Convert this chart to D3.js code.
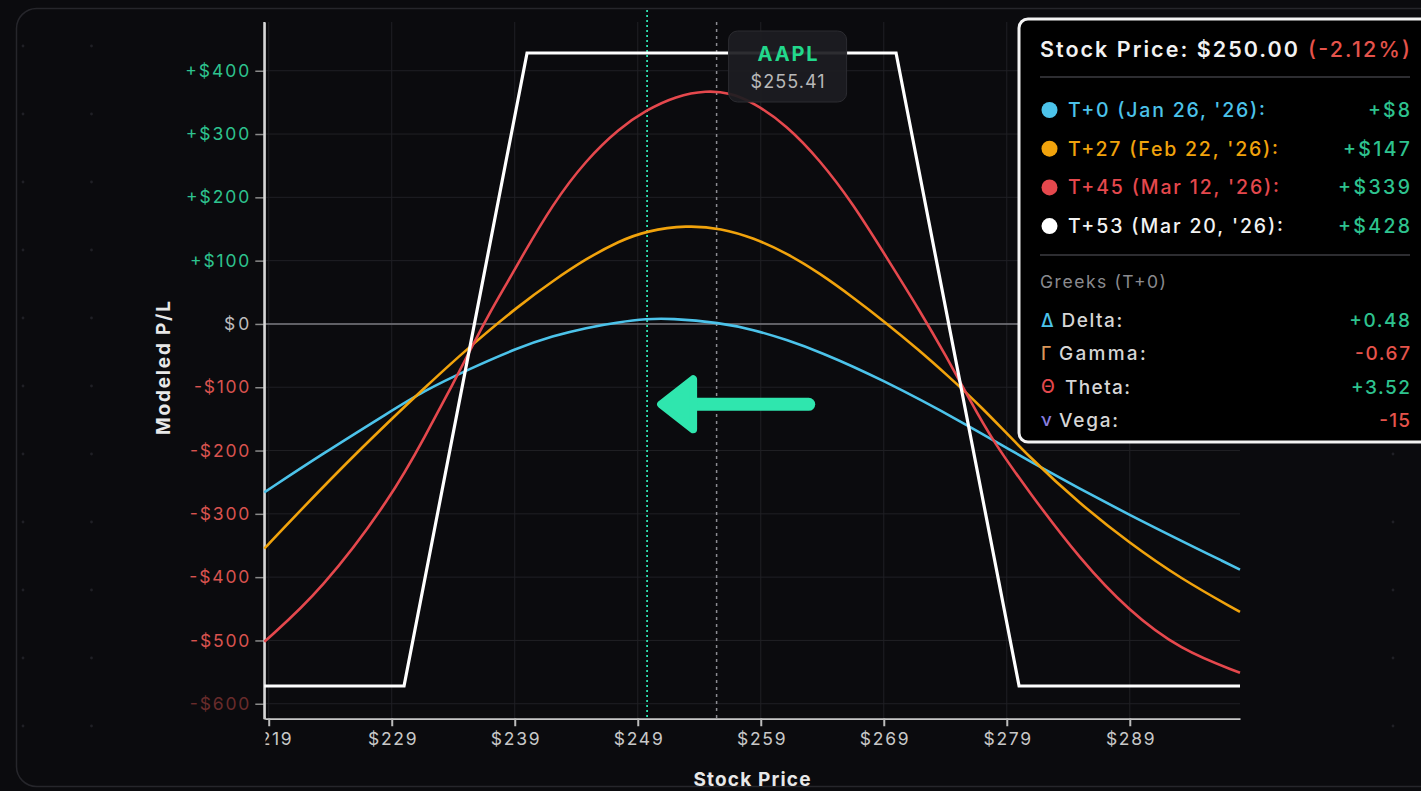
<!DOCTYPE html>
<html><head><meta charset="utf-8">
<script src="https://cdn.jsdelivr.net/npm/d3@7"></script>
<style>
html,body{margin:0;padding:0;background:#0b0b0e;overflow:hidden;}
svg{display:block;font-family:Inter,"Noto Sans",sans-serif;}
</style></head>
<body>
<svg id="chart" width="1421" height="791"></svg>
<script>
// ---------- data ----------
const priceDomain = [218.64, 297.96];
const plDomain = [-623, 477];
const xTicks = [219, 229, 239, 249, 259, 269, 279, 289];
const yTicks = [-600, -500, -400, -300, -200, -100, 0, 100, 200, 300, 400];

const seriesT0 = [[218.64,-266],[223.3,-206],[229,-137],[231.5,-107],[235.2,-72],[239.2,-38],[242.1,-19],[244.8,-6],[247.5,3],[249.7,8],[251.6,9],[255.7,2],[258.4,-9],[261.1,-25],[263.8,-44],[268.7,-86],[275.6,-157],[280.9,-218],[288.9,-302],[297.96,-388]];
const seriesT27 = [[218.64,-355],[221.3,-300],[226.3,-200],[231.7,-100],[235.2,-38],[239.4,30],[242.1,68],[244.8,103],[247.5,131],[249.7,147],[253,156],[255.8,151],[258.4,136],[261.1,112],[263.8,80],[266.5,42],[269.1,3],[271.9,-42],[274.1,-80],[276.8,-128],[280.9,-212],[285,-285],[288.9,-345],[293.1,-402],[297.96,-455]];
const seriesT45 = [[218.64,-502],[223.3,-421],[229,-273],[231.7,-178],[234.1,-90],[235.2,-48],[236.85,14],[238.5,69],[239.4,100],[242.1,190],[244.8,259],[247.5,309],[249.7,338],[252.1,360],[254.6,369],[256.5,365],[258.4,350],[261.1,314],[263.8,259],[266.5,190],[269.2,106],[271.9,22],[274.1,-52],[276,-120],[277.8,-183],[280.9,-268],[285,-373],[288.9,-453],[293.1,-515],[297.96,-551]];
const seriesT53 = [[218.64,-572],[230,-572],[240,428],[270,428],[280,-572],[297.96,-572]];

const seriesNames = ["T+0","T+27","T+45","T+53"];
const seriesColors = ["#4cc3ea","#f1a30c","#e5484d","#ffffff"];
const legendLabels = ["T+0 (Jan 26, '26):","T+27 (Feb 22, '26):","T+45 (Mar 12, '26):","T+53 (Mar 20, '26):"];
const legendValues = ["+$8","+$147","+$339","+$428"];

const greekSymbols = ["Δ","Γ","Θ","ν"];
const greekNames = ["Delta:","Gamma:","Theta:","Vega:"];
const greekValues = ["+0.48","-0.67","+3.52","-15"];
const greekSymbolColors = ["#4cc3ea","#d9965a","#e5484d","#8a7fe0"];

const currentPrice = 255.41;
const hoverPrice = 249.76;   // position of the hover cursor as drawn
const hoverLabel = "$250.00";
const hoverChange = "(-2.12%)";
const ticker = "AAPL";

// arrow annotation in data units: tip, head back, shaft end
const arrowTip = [250.9, -127];
const arrowHeadBack = 253.5;
const arrowHeadHalf = 39.5;
const arrowTail = 262.9;

// ---------- layout ----------
const svg = d3.select("#chart");
const W = 1421, H = 791;
const m = {left: 264.3, right: 1240, top: 22, bottom: 718.3};
const x = d3.scaleLinear().domain(priceDomain).range([m.left, m.right]);
const y = d3.scaleLinear().domain(plDomain).range([m.bottom, m.top]);

// helper: stretch a text to a target width (the reference font is wider)
function fitW(sel, w) { sel.attr("textLength", w).attr("lengthAdjust", "spacing"); return sel; }
function widen(sel, k) { sel.each(function () { const n = this.getComputedTextLength(); d3.select(this).attr("textLength", n * k).attr("lengthAdjust", "spacing"); }); }

// background card
svg.append("rect").attr("width", W).attr("height", H).attr("fill", "#0b0b0e");
const dotXs = d3.range(23, W, 68.5), dotYs = d3.range(46, H, 68);
dotXs.forEach(dx => dotYs.forEach(dy => {
  if (dx > 135 && dx < 1325) return;
  svg.append("circle").attr("cx", dx).attr("cy", dy).attr("r", 1.4).attr("fill", "#202026");
}));
svg.append("rect").attr("x", 16.5).attr("y", 8.5).attr("width", 1440).attr("height", 778)
  .attr("rx", 20).attr("fill", "none").attr("stroke", "#26262b").attr("stroke-width", 1.5);

// grid
const grid = svg.append("g");
grid.selectAll(".hg").data(yTicks).join("line")
  .attr("x1", m.left).attr("x2", m.right).attr("y1", d => y(d)).attr("y2", d => y(d))
  .attr("stroke", "#202025").attr("stroke-width", 1);
grid.selectAll(".vg").data(xTicks).join("line")
  .attr("y1", m.top).attr("y2", m.bottom).attr("x1", d => x(d)).attr("x2", d => x(d))
  .attr("stroke", "#202025").attr("stroke-width", 1);
// zero line
svg.append("line").attr("x1", m.left).attr("x2", m.right).attr("y1", y(0)).attr("y2", y(0))
  .attr("stroke", "#7a7a80").attr("stroke-width", 1.5);

// axes
const fmtY = d => d > 0 ? "+$" + d : d < 0 ? "-$" + Math.abs(d) : "$0";
const yAxis = svg.append("g").attr("transform", `translate(${m.left},0)`)
  .call(d3.axisLeft(y).tickValues(yTicks).tickFormat(fmtY).tickSize(9).tickSizeOuter(0).tickPadding(6));
yAxis.select(".domain").attr("stroke", "#d8d8d8").attr("stroke-width", 2);
yAxis.selectAll(".tick line").attr("stroke", "#8a8a8a").attr("stroke-width", 1.5);
yAxis.selectAll(".tick text")
  .attr("font-family", "Inter, sans-serif").attr("font-size", 17.5)
  .attr("fill", d => d > 0 ? "#2ec38f" : d < 0 ? "#d9534f" : "#bdbdbd")
  .attr("opacity", d => d === -600 ? 0.45 : 1);
widen(yAxis.selectAll(".tick text"), 1.14);

svg.append("defs").append("clipPath").attr("id", "xclip")
  .append("rect").attr("x", 265.5).attr("y", 0).attr("width", 1000).attr("height", H);
const xAxis = svg.append("g").attr("transform", `translate(0,${m.bottom})`)
  .call(d3.axisBottom(x).tickValues(xTicks).tickFormat(d => "$" + d).tickSize(8).tickSizeOuter(0).tickPadding(6));
xAxis.attr("clip-path", "url(#xclip)");
xAxis.select(".domain").attr("stroke", "#c8c8c8").attr("stroke-width", 2.5);
xAxis.selectAll(".tick line").attr("stroke", "#bdbdbd").attr("stroke-width", 2);
xAxis.selectAll(".tick text").attr("font-family", "Inter, sans-serif").attr("font-size", 17.5).attr("fill", "#c8c8c8");
widen(xAxis.selectAll(".tick text"), 1.12);
// axis corner: y-domain and the start of the x-domain
svg.append("line").attr("x1", m.left).attr("x2", m.left).attr("y1", m.top).attr("y2", m.bottom + 1)
  .attr("stroke", "#d8d8d8").attr("stroke-width", 2);
svg.append("line").attr("x1", m.left).attr("x2", 266).attr("y1", m.bottom).attr("y2", m.bottom)
  .attr("stroke", "#c8c8c8").attr("stroke-width", 2.5);

// axis titles
fitW(svg.append("text").attr("x", 752).attr("y", 786).attr("text-anchor", "middle")
  .attr("font-size", 19).attr("font-weight", 700).attr("fill", "#e8e8e8").text("Stock Price"), 117);
fitW(svg.append("text").attr("transform", `translate(170,368) rotate(-90)`)
  .attr("text-anchor", "middle").attr("font-size", 19).attr("font-weight", 700).attr("fill", "#e8e8e8").text("Modeled P/L"), 134);

// reference lines
svg.append("line").attr("x1", x(currentPrice)).attr("x2", x(currentPrice)).attr("y1", m.top).attr("y2", m.bottom)
  .attr("stroke", "#8c8c92").attr("stroke-width", 1.5).attr("stroke-dasharray", "3,4");
svg.append("line").attr("x1", x(hoverPrice)).attr("x2", x(hoverPrice)).attr("y1", 10).attr("y2", m.bottom)
  .attr("stroke", "#2fe0b0").attr("stroke-width", 1.8).attr("stroke-dasharray", "2,3");

// series
const line = d3.line().x(d => x(d[0])).y(d => y(d[1])).curve(d3.curveBasis);
const lineLin = d3.line().x(d => x(d[0])).y(d => y(d[1]));
const allSeries = [seriesT0, seriesT27, seriesT45];
svg.append("g").selectAll("path").data(allSeries).join("path")
  .attr("d", d => line(d)).attr("fill", "none")
  .attr("stroke", (d, i) => seriesColors[i]).attr("stroke-width", 2.6);
svg.append("path").attr("d", lineLin(seriesT53)).attr("fill", "none")
  .attr("stroke", seriesColors[3]).attr("stroke-width", 3.2).attr("stroke-linejoin", "miter");

// ticker label
const tg = svg.append("g");
const tcx = x(currentPrice) + 71;
tg.append("rect").attr("x", tcx - 59).attr("y", 31).attr("width", 118).attr("height", 71).attr("rx", 9)
  .attr("fill", "#1d1d21").attr("fill-opacity", 0.93).attr("stroke", "#2c2c31").attr("stroke-width", 1);
fitW(tg.append("text").attr("x", tcx).attr("y", 61).attr("text-anchor", "middle")
  .attr("font-size", 20).attr("font-weight", 700).attr("fill", "#22d88c").text(ticker), 60);
fitW(tg.append("text").attr("x", tcx).attr("y", 88).attr("text-anchor", "middle")
  .attr("font-size", 18).attr("fill", "#b8b8b8").text("$" + currentPrice.toFixed(2)), 74);

// arrow
const ax = svg.append("g");
const ay = y(arrowTip[1]);
ax.append("line").attr("x1", x(arrowHeadBack) - 4).attr("x2", x(arrowTail)).attr("y1", ay).attr("y2", ay)
  .attr("stroke", "#2fe6ae").attr("stroke-width", 13).attr("stroke-linecap", "round");
const hh = y(0) - y(arrowHeadHalf);
ax.append("path")
  .attr("d", `M${x(arrowTip[0])},${ay} L${x(arrowHeadBack)},${ay - hh} L${x(arrowHeadBack)},${ay + hh} Z`)
  .attr("fill", "#2fe6ae").attr("stroke", "#2fe6ae").attr("stroke-width", 8).attr("stroke-linejoin", "round");

// tooltip panel
const tp = svg.append("g");
tp.append("rect").attr("x", 1019).attr("y", 19).attr("width", 410).attr("height", 423).attr("rx", 9)
  .attr("fill", "#000").attr("stroke", "#f2f2f2").attr("stroke-width", 3);
const tx0 = 1040, tx1 = 1410;
fitW(tp.append("text").attr("x", tx0).attr("y", 57).attr("font-size", 21.5).attr("font-weight", 600)
  .attr("fill", "#f2f2f2").text("Stock Price: " + hoverLabel), 258);
fitW(tp.append("text").attr("x", tx1).attr("y", 57).attr("text-anchor", "end").attr("font-size", 21.5).attr("font-weight", 500)
  .attr("fill", "#e5534b").text(hoverChange), 102);
tp.append("line").attr("x1", tx0).attr("x2", tx1).attr("y1", 77).attr("y2", 77).attr("stroke", "#2d2d31").attr("stroke-width", 2);
const labW = [197, 210, 211, 215], valW = [42, 67, 72, 72];
legendLabels.forEach((lab, i) => {
  const cy = 110 + i * 38.7;
  tp.append("circle").attr("cx", 1049.5).attr("cy", cy).attr("r", 8).attr("fill", seriesColors[i]);
  fitW(tp.append("text").attr("x", 1068).attr("y", cy + 7).attr("font-size", 19.5).attr("font-weight", 500)
    .attr("fill", seriesColors[i] === "#ffffff" ? "#f2f2f2" : seriesColors[i]).text(lab), labW[i]);
  fitW(tp.append("text").attr("x", tx1).attr("y", cy + 7).attr("text-anchor", "end").attr("font-size", 19.5).attr("font-weight", 500)
    .attr("fill", "#2ec38f").text(legendValues[i]), valW[i]);
});
tp.append("line").attr("x1", tx0).attr("x2", tx1).attr("y1", 255).attr("y2", 255).attr("stroke", "#2d2d31").attr("stroke-width", 2);
fitW(tp.append("text").attr("x", tx0).attr("y", 288).attr("font-size", 17.5).attr("fill", "#8a8a8e").text("Greeks (T+0)"), 126);
const gx = [1061.5, 1059, 1065, 1059], gW = [60.7, 86.7, 65, 59], gvW = [60.7, 55, 59, 30.7];
greekNames.forEach((g, i) => {
  const cy = 320 + i * 33.3;
  tp.append("text").attr("x", tx0 + 1).attr("y", cy + 6.5).attr("font-size", 18).attr("font-weight", 500).attr("fill", greekSymbolColors[i]).text(greekSymbols[i]);
  fitW(tp.append("text").attr("x", gx[i]).attr("y", cy + 7).attr("font-size", 19).attr("font-weight", 500).attr("fill", "#d6d6d6").text(g), gW[i]);
  fitW(tp.append("text").attr("x", tx1).attr("y", cy + 7).attr("text-anchor", "end").attr("font-size", 19).attr("font-weight", 500)
    .attr("fill", greekValues[i].startsWith("-") ? "#e5534b" : "#2ec38f").text(greekValues[i]), gvW[i]);
});
</script>
</body></html>
